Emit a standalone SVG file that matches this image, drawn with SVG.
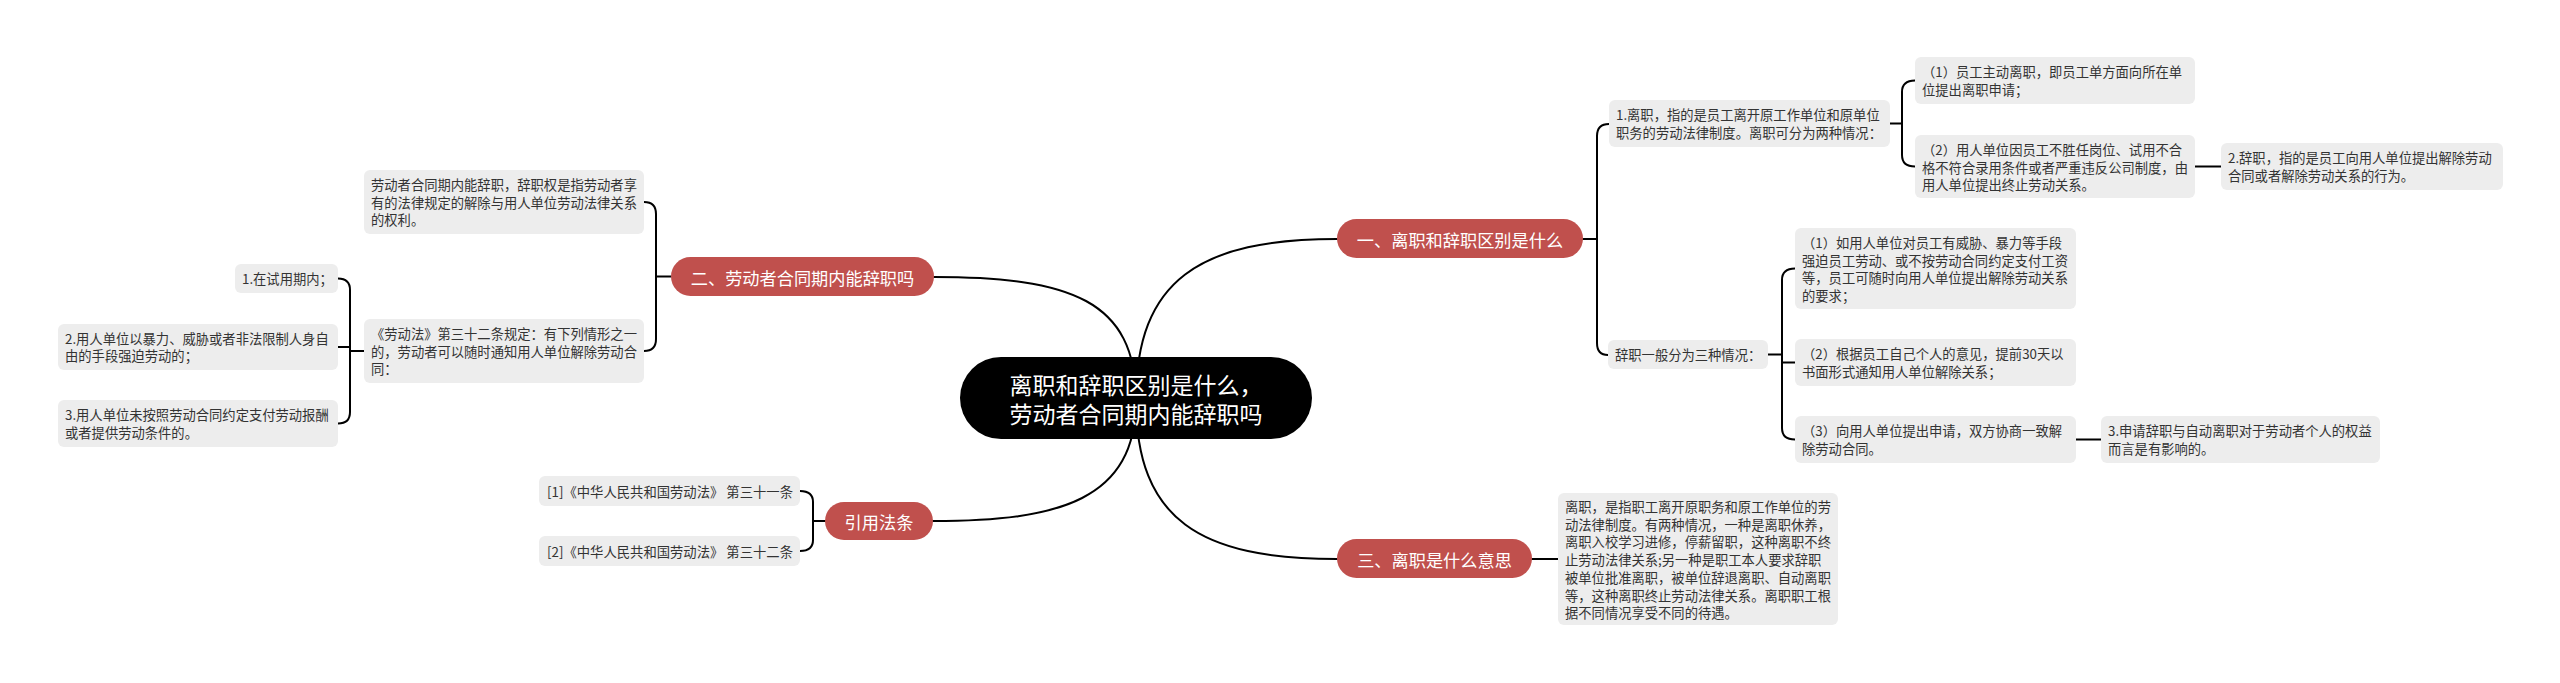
<svg xmlns="http://www.w3.org/2000/svg" width="2560" height="683" viewBox="0 0 2560 683">
<style>
.bg{fill:#ffffff}
.link{fill:none;stroke:#000;stroke-width:2;stroke-linecap:round}
.box{fill:#ededed}
.t{font-family:"Noto Sans CJK SC","Noto Sans",sans-serif;font-size:13.3px;fill:#333333;dominant-baseline:central}
.br{fill:#c0504d}
.bt{font-family:"Noto Sans CJK SC","Noto Sans",sans-serif;font-size:17.2px;fill:#ffffff;dominant-baseline:central;text-anchor:middle}
.ct{font-family:"Noto Sans CJK SC","Noto Sans",sans-serif;font-size:23px;fill:#ffffff;dominant-baseline:central;text-anchor:middle}
</style>
<rect class="bg" x="0" y="0" width="2560" height="683"/>
<g id="connectors">
<path class="link" d="M1136,400 C1136,280 1200,239 1337,239"/>
<path class="link" d="M1136,400 C1136,300 1070,277 934,277"/>
<path class="link" d="M1136,400 C1136,500 1060,521 933,521"/>
<path class="link" d="M1136,400 C1136,520 1200,559 1337,559"/>
<path class="link" d="M1583,239 H1597 M1609,124 Q1597,124 1597,136 V343 Q1597,355 1608,355"/>
<path class="link" d="M1890,123.5 H1902 M1915,80.5 Q1902,80.5 1902,92 V155 Q1902,166.5 1915,166.5"/>
<path class="link" d="M2195,166.5 H2221"/>
<path class="link" d="M1768,354.5 H1782 M1795,268.5 Q1782,268.5 1782,280 V428 Q1782,439.5 1795,439.5 M1782,362.5 H1795"/>
<path class="link" d="M2076,439.5 H2101"/>
<path class="link" d="M1532,559 H1558"/>
<path class="link" d="M671,276.5 H656 M644,202 Q656,202 656,214 V339 Q656,351 644,351"/>
<path class="link" d="M364,351 H350 M338,278.5 Q350,278.5 350,290 V412 Q350,423.5 338,423.5 M338,347 H350"/>
<path class="link" d="M825,521 H813 M800,491 Q813,491 813,502 V540 Q813,551 800,551"/>
</g>
<g id="center">
<rect x="960" y="357" width="352" height="82" rx="41" fill="#000"/>
<text class="ct" x="1136" y="384">离职和辞职区别是什么，</text>
<text class="ct" x="1136" y="413">劳动者合同期内能辞职吗</text>
</g>
<g id="b1">
<rect class="br" x="1337" y="219" width="246" height="39" rx="19.5"/>
<text class="bt" x="1460" y="239">一、离职和辞职区别是什么</text>
</g>
<g id="b2">
<rect class="br" x="671" y="257" width="263" height="39" rx="19.5"/>
<text class="bt" x="802.5" y="277">二、劳动者合同期内能辞职吗</text>
</g>
<g id="b3">
<rect class="br" x="1337" y="539" width="195" height="39" rx="19.5"/>
<text class="bt" x="1434.5" y="559">三、离职是什么意思</text>
</g>
<g id="b4">
<rect class="br" x="825" y="502" width="108" height="38" rx="19"/>
<text class="bt" x="879" y="521.5">引用法条</text>
</g>
<g id="n1">
<rect class="box" x="1609" y="100" width="281" height="47" rx="6"/>
<text class="t" x="1616" y="114.5">1.离职，指的是员工离开原工作单位和原单位</text>
<text class="t" x="1616" y="132.2">职务的劳动法律制度。离职可分为两种情况：</text>
</g>
<g id="n1a">
<rect class="box" x="1915" y="57" width="280" height="47" rx="6"/>
<text class="t" x="1922" y="71.5">（1）员工主动离职，即员工单方面向所在单</text>
<text class="t" x="1922" y="89.2">位提出离职申请；</text>
</g>
<g id="n1b">
<rect class="box" x="1915" y="135" width="280" height="63" rx="6"/>
<text class="t" x="1922" y="149.5">（2）用人单位因员工不胜任岗位、试用不合</text>
<text class="t" x="1922" y="167.2">格不符合录用条件或者严重违反公司制度，由</text>
<text class="t" x="1922" y="184.9">用人单位提出终止劳动关系。</text>
</g>
<g id="n1c">
<rect class="box" x="2221" y="143" width="282" height="47" rx="6"/>
<text class="t" x="2228" y="157.5">2.辞职，指的是员工向用人单位提出解除劳动</text>
<text class="t" x="2228" y="175.2">合同或者解除劳动关系的行为。</text>
</g>
<g id="n2">
<rect class="box" x="1608" y="340" width="160" height="29" rx="6"/>
<text class="t" x="1615" y="354.5">辞职一般分为三种情况：</text>
</g>
<g id="n2a">
<rect class="box" x="1795" y="228" width="281" height="81" rx="6"/>
<text class="t" x="1802" y="242.5">（1）如用人单位对员工有威胁、暴力等手段</text>
<text class="t" x="1802" y="260.2">强迫员工劳动、或不按劳动合同约定支付工资</text>
<text class="t" x="1802" y="277.9">等，员工可随时向用人单位提出解除劳动关系</text>
<text class="t" x="1802" y="295.6">的要求；</text>
</g>
<g id="n2b">
<rect class="box" x="1795" y="339" width="281" height="47" rx="6"/>
<text class="t" x="1802" y="353.5">（2）根据员工自己个人的意见，提前30天以</text>
<text class="t" x="1802" y="371.2">书面形式通知用人单位解除关系；</text>
</g>
<g id="n2c">
<rect class="box" x="1795" y="416" width="281" height="47" rx="6"/>
<text class="t" x="1802" y="430.5">（3）向用人单位提出申请，双方协商一致解</text>
<text class="t" x="1802" y="448.2">除劳动合同。</text>
</g>
<g id="n2d">
<rect class="box" x="2101" y="416" width="279" height="47" rx="6"/>
<text class="t" x="2108" y="430.5">3.申请辞职与自动离职对于劳动者个人的权益</text>
<text class="t" x="2108" y="448.2">而言是有影响的。</text>
</g>
<g id="n3">
<rect class="box" x="1558" y="493" width="280" height="132" rx="6"/>
<text class="t" x="1565" y="506.5">离职，是指职工离开原职务和原工作单位的劳</text>
<text class="t" x="1565" y="524.2">动法律制度。有两种情况，一种是离职休养，</text>
<text class="t" x="1565" y="541.9">离职入校学习进修，停薪留职，这种离职不终</text>
<text class="t" x="1565" y="559.6">止劳动法律关系;另一种是职工本人要求辞职</text>
<text class="t" x="1565" y="577.3">被单位批准离职，被单位辞退离职、自动离职</text>
<text class="t" x="1565" y="595">等，这种离职终止劳动法律关系。离职职工根</text>
<text class="t" x="1565" y="612.7">据不同情况享受不同的待遇。</text>
</g>
<g id="n4">
<rect class="box" x="364" y="170" width="280" height="64" rx="6"/>
<text class="t" x="371" y="184.5">劳动者合同期内能辞职，辞职权是指劳动者享</text>
<text class="t" x="371" y="202.2">有的法律规定的解除与用人单位劳动法律关系</text>
<text class="t" x="371" y="219.9">的权利。</text>
</g>
<g id="n5">
<rect class="box" x="364" y="319" width="280" height="64" rx="6"/>
<text class="t" x="371" y="333.5">《劳动法》第三十二条规定：有下列情形之一</text>
<text class="t" x="371" y="351.2">的，劳动者可以随时通知用人单位解除劳动合</text>
<text class="t" x="371" y="368.9">同：</text>
</g>
<g id="n5a">
<rect class="box" x="235" y="264" width="103" height="29" rx="6"/>
<text class="t" x="242" y="278.5">1.在试用期内；</text>
</g>
<g id="n5b">
<rect class="box" x="58" y="324" width="280" height="46" rx="6"/>
<text class="t" x="65" y="338">2.用人单位以暴力、威胁或者非法限制人身自</text>
<text class="t" x="65" y="355.7">由的手段强迫劳动的；</text>
</g>
<g id="n5c">
<rect class="box" x="58" y="400" width="280" height="47" rx="6"/>
<text class="t" x="65" y="414.5">3.用人单位未按照劳动合同约定支付劳动报酬</text>
<text class="t" x="65" y="432.2">或者提供劳动条件的。</text>
</g>
<g id="n6a">
<rect class="box" x="539" y="476" width="261" height="30" rx="6"/>
<text class="t" x="547" y="491" textLength="246" lengthAdjust="spacingAndGlyphs">[1]《中华人民共和国劳动法》 第三十一条</text>
</g>
<g id="n6b">
<rect class="box" x="539" y="536" width="261" height="30" rx="6"/>
<text class="t" x="547" y="551" textLength="246" lengthAdjust="spacingAndGlyphs">[2]《中华人民共和国劳动法》 第三十二条</text>
</g>
</svg>
